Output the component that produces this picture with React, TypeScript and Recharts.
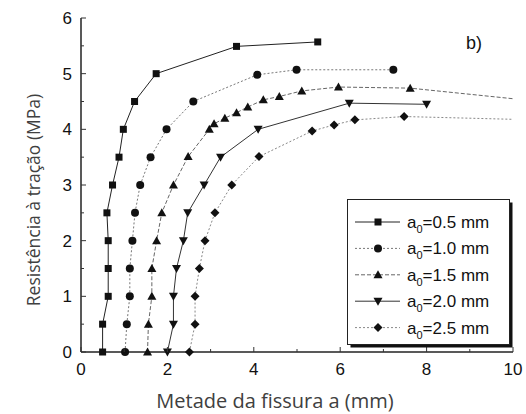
import React from 'react'
import { LineChart, Line, XAxis, YAxis } from 'recharts'

// a0 = 0.5 mm
const s05x = [0.5, 0.5, 0.63, 0.63, 0.63, 0.6, 0.73, 0.88, 0.98, 1.24, 1.74, 3.6, 5.48]
const s05y = [0, 0.5, 1.0, 1.5, 2.0, 2.5, 3.0, 3.5, 4.0, 4.5, 5.0, 5.49, 5.57]
// a0 = 1.0 mm
const s10x = [1.02, 1.06, 1.13, 1.13, 1.19, 1.25, 1.37, 1.61, 1.98, 2.6, 4.08, 4.99, 7.23]
const s10y = [0, 0.5, 1.0, 1.5, 2.0, 2.5, 3.0, 3.5, 4.0, 4.5, 4.98, 5.07, 5.07]
// a0 = 1.5 mm (último ponto fora do gráfico, sem marcador)
const s15x = [1.54, 1.56, 1.64, 1.64, 1.75, 1.87, 2.14, 2.48, 2.97, 3.08, 3.33, 3.6, 3.86, 4.22, 4.59, 5.11, 5.96, 7.62, 10]
const s15y = [0, 0.5, 1.0, 1.5, 2.0, 2.5, 3.0, 3.51, 4.0, 4.1, 4.2, 4.3, 4.4, 4.53, 4.59, 4.69, 4.76, 4.74, 4.55]
// a0 = 2.0 mm
const s20x = [2.0, 2.14, 2.14, 2.21, 2.37, 2.47, 2.85, 3.23, 4.1, 6.21, 8.0]
const s20y = [0, 0.5, 1.0, 1.5, 2.0, 2.5, 3.0, 3.5, 4.0, 4.47, 4.45]
// a0 = 2.5 mm
const s25x = [2.51, 2.64, 2.64, 2.74, 2.87, 3.1, 3.49, 4.12, 5.35, 5.86, 6.34, 7.48, 10]
const s25y = [0, 0.5, 1.0, 1.5, 2.0, 2.5, 3.0, 3.51, 3.97, 4.08, 4.17, 4.23, 4.18]

const X_TICKS = [0, 1, 2, 3, 4, 5, 6, 7, 8, 9, 10]
const Y_TICKS = [0, 0.5, 1, 1.5, 2, 2.5, 3, 3.5, 4, 4.5, 5, 5.5, 6]

const toRows = (xs: number[], ys: number[]) => xs.map((x, i) => ({ x, y: ys[i] }))

type Shape = 'square' | 'circle' | 'up' | 'down' | 'diamond'

const SERIES: { name: string; data: { x: number; y: number }[]; shape: Shape; stroke: string; dash?: string }[] = [
  { name: '0.5', data: toRows(s05x, s05y), shape: 'square', stroke: '#222', dash: undefined },
  { name: '1.0', data: toRows(s10x, s10y), shape: 'circle', stroke: '#777', dash: '2 2' },
  { name: '1.5', data: toRows(s15x, s15y), shape: 'up', stroke: '#666', dash: '4 2' },
  { name: '2.0', data: toRows(s20x, s20y), shape: 'down', stroke: '#333', dash: undefined },
  { name: '2.5', data: toRows(s25x, s25y), shape: 'diamond', stroke: '#888', dash: '2 2' },
]

function Marker({ cx, cy, shape }: { cx: number; cy: number; shape: Shape }) {
  const f = '#111'
  if (shape === 'square') return <rect x={cx - 3.5} y={cy - 3.5} width={7} height={7} fill={f} />
  if (shape === 'circle') return <circle cx={cx} cy={cy} r={4} fill={f} />
  if (shape === 'up') return <polygon points={`${cx},${cy - 4.5} ${cx + 4.5},${cy + 3.5} ${cx - 4.5},${cy + 3.5}`} fill={f} />
  if (shape === 'down') return <polygon points={`${cx},${cy + 4.5} ${cx + 4.5},${cy - 3.5} ${cx - 4.5},${cy - 3.5}`} fill={f} />
  return <polygon points={`${cx},${cy - 4.5} ${cx + 4.5},${cy} ${cx},${cy + 4.5} ${cx - 4.5},${cy}`} fill={f} />
}

const TICK_FONT = '"Liberation Sans", Arial, sans-serif'
const TITLE_FONT = '"Open Sans", sans-serif'

function LeftTick(props: any) {
  const { x, y, payload } = props
  const major = Number.isInteger(payload.value)
  return (
    <g>
      <line x1={x} x2={x + (major ? 5 : 3)} y1={y} y2={y} stroke="#333" />
      {major && (
        <text x={x - 9} y={y + 6} textAnchor="end" fontSize={17} fontFamily={TICK_FONT} fill="#111">
          {payload.value}
        </text>
      )}
    </g>
  )
}

function RightTick(props: any) {
  const { x, y, payload } = props
  const major = Number.isInteger(payload.value)
  return <line x1={x} x2={x - (major ? 5 : 3)} y1={y} y2={y} stroke="#555" />
}

function BottomTick(props: any) {
  const { x, y, payload } = props
  const major = payload.value % 2 === 0
  return (
    <g>
      <line x1={x} x2={x} y1={y} y2={y - (major ? 5 : 3)} stroke="#333" />
      {major && (
        <text x={x} y={y + 22.5} textAnchor="middle" fontSize={17} fontFamily={TICK_FONT} fill="#111">
          {payload.value}
        </text>
      )}
    </g>
  )
}

function TopTick(props: any) {
  const { x, y, payload } = props
  const major = payload.value % 2 === 0
  return <line x1={x} x2={x} y1={y} y2={y + (major ? 5 : 3)} stroke="#555" />
}

function LegendBox() {
  return (
    <svg
      width={170}
      height={152}
      style={{ position: 'absolute', left: 347, top: 199, overflow: 'visible' }}
    >
      <rect x={3.5} y={3.5} width={162} height={145} fill="#111" />
      <rect x={0.5} y={0.5} width={162} height={145} fill="#fff" stroke="#222" />
      {SERIES.map((s, i) => {
        const cy = 23 + i * 26.4
        return (
          <g key={s.name}>
            <line x1={8} x2={53} y1={cy} y2={cy} stroke={s.stroke} strokeDasharray={s.dash} />
            <Marker cx={31} cy={cy} shape={s.shape} />
            <text x={60} y={cy + 6} fontSize={17} fontFamily={TICK_FONT} fill="#111">
              a
              <tspan fontSize={11} dy={5}>0</tspan>
              <tspan dy={-5}>={s.name} mm</tspan>
            </text>
          </g>
        )
      })}
    </svg>
  )
}

export default function App() {
  return (
    <div style={{ position: 'absolute', left: 0, top: 0, width: 526, height: 414, background: '#fff' }}>
      <LineChart width={526} height={414} margin={{ top: 18, right: 13, bottom: 0, left: 0 }}>
        <XAxis
          dataKey="x"
          type="number"
          domain={[0, 10]}
          ticks={X_TICKS}
          allowDuplicatedCategory={false}
          height={62}
          tickSize={0}
          tickMargin={0}
          tickLine={false}
          tick={<BottomTick />}
          axisLine={{ stroke: '#222', strokeWidth: 1.5 }}
          label={() => (
            <text x={275} y={408} textAnchor="middle" fontSize={20} fontFamily={TITLE_FONT} fill="#404040">
              Metade da fissura a (mm)
            </text>
          )}
        />
        <XAxis
          xAxisId="top"
          dataKey="x"
          type="number"
          orientation="top"
          domain={[0, 10]}
          ticks={X_TICKS}
          height={0}
          tickSize={0}
          tickMargin={0}
          tickLine={false}
          tick={<TopTick />}
          axisLine={{ stroke: '#555' }}
        />
        <YAxis
          type="number"
          domain={[0, 6]}
          ticks={Y_TICKS}
          width={81}
          tickSize={0}
          tickMargin={0}
          tickLine={false}
          tick={<LeftTick />}
          axisLine={{ stroke: '#222', strokeWidth: 1.5 }}
          label={() => (
            <text
              x={33}
              y={200}
              transform="rotate(-90 33 200)"
              textAnchor="middle"
              dominantBaseline="central"
              fontSize={17.5}
              fontFamily={TITLE_FONT}
              fill="#404040"
            >
              Resistência à tração (MPa)
            </text>
          )}
        />
        <YAxis
          yAxisId="right"
          type="number"
          orientation="right"
          domain={[0, 6]}
          ticks={Y_TICKS}
          width={0}
          tickSize={0}
          tickMargin={0}
          tickLine={false}
          tick={<RightTick />}
          axisLine={{ stroke: '#555' }}
        />
        {SERIES.map((s) => (
          <Line
            key={s.name}
            data={s.data}
            dataKey="y"
            type="linear"
            stroke={s.stroke}
            strokeWidth={1}
            strokeDasharray={s.dash}
            isAnimationActive={false}
            legendType="none"
            dot={(p: any) =>
              p.payload.x >= 10 ? (
                <g key={`${s.name}-${p.index}`} />
              ) : (
                <Marker key={`${s.name}-${p.index}`} cx={p.cx} cy={p.cy} shape={s.shape} />
              )
            }
          />
        ))}
        <text x={466} y={49} fontSize={18} fontFamily={TICK_FONT} fill="#111">
          b)
        </text>
      </LineChart>
      <LegendBox />
    </div>
  )
}
